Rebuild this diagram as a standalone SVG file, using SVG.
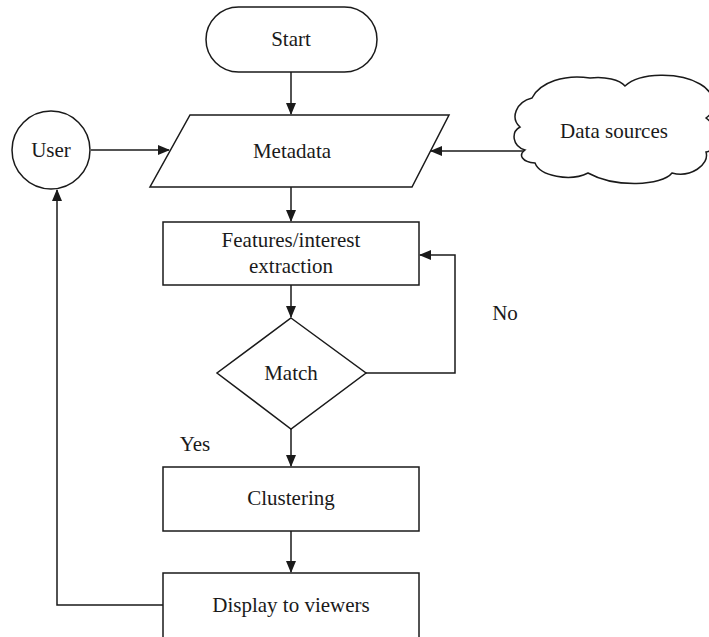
<svg xmlns="http://www.w3.org/2000/svg" width="709" height="637" viewBox="0 0 709 637">
<defs>
<marker id="ah" markerWidth="12" markerHeight="10" refX="11" refY="5" orient="auto" markerUnits="userSpaceOnUse">
<path d="M0,0 L12,5 L0,10 Z" fill="#1a1a1a"/>
</marker>
<style>
.shape{fill:#fff;stroke:#1a1a1a;stroke-width:1.5}
.conn{fill:none;stroke:#1a1a1a;stroke-width:1.5}
text{font-family:"Liberation Serif","Times New Roman",serif;font-size:21px;fill:#1a1a1a;text-anchor:middle}
</style>
</defs>
<rect width="709" height="637" fill="#fff"/>
<g id="connectors">
<path class="conn" d="M291,72 L291,114" marker-end="url(#ah)"/>
<path class="conn" d="M91,150 L169,150" marker-end="url(#ah)"/>
<path class="conn" d="M527,151 L431,151" marker-end="url(#ah)"/>
<path class="conn" d="M291,187 L291,221" marker-end="url(#ah)"/>
<path class="conn" d="M291,285 L291,317" marker-end="url(#ah)"/>
<path class="conn" d="M366,373 L455,373 L455,255 L420,255" marker-end="url(#ah)"/>
<path class="conn" d="M291,429 L291,466" marker-end="url(#ah)"/>
<path class="conn" d="M291,531 L291,572" marker-end="url(#ah)"/>
<path class="conn" d="M163,605 L57,605 L57,190" marker-end="url(#ah)"/>
</g>
<g id="start">
<rect class="shape" x="206" y="7" width="171" height="65" rx="32.5"/>
<text x="291" y="46">Start</text>
</g>
<g id="user">
<circle class="shape" cx="51" cy="150" r="39"/>
<text x="51" y="157">User</text>
</g>
<g id="metadata">
<polygon class="shape" points="190,115 449,115 412,187 150,187"/>
<text x="292" y="158">Metadata</text>
</g>
<g id="datasources">
<path class="shape" d="M525,150 C512,146 511,132 520,127 C510,118 516,102 532,98 C540,82 565,74 590,78 C605,76 620,80 625,86 C640,72 680,72 700,84 C715,92 718,110 706,118 C722,130 718,150 706,152 C710,165 690,178 672,173 C662,186 615,188 588,173 C570,182 540,176 535,163 C522,162 518,155 525,150 Z"/>
<text x="614" y="138">Data sources</text>
</g>
<g id="features">
<rect class="shape" x="163" y="222" width="256" height="63"/>
<text x="291" y="247">Features/interest</text>
<text x="291" y="273">extraction</text>
</g>
<g id="match">
<polygon class="shape" points="291,318 366,373 291,429 217,373"/>
<text x="291" y="380">Match</text>
</g>
<g id="clustering">
<rect class="shape" x="163" y="467" width="256" height="64"/>
<text x="291" y="505">Clustering</text>
</g>
<g id="display">
<rect class="shape" x="163" y="573" width="256" height="80"/>
<text x="291" y="612">Display to viewers</text>
</g>
<text x="505" y="320">No</text>
<text x="195" y="451">Yes</text>
</svg>
